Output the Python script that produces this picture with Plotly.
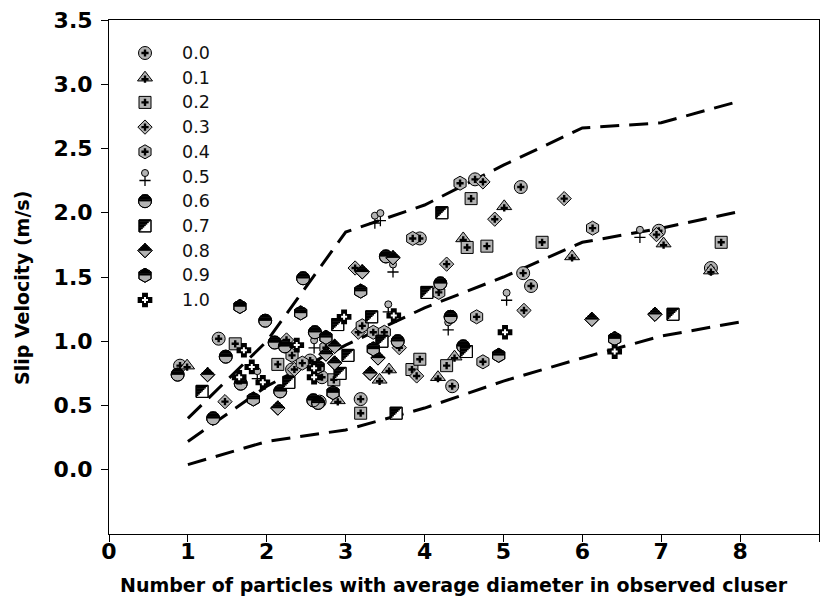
import math
import plotly.graph_objects as go

labels = ["0.0", "0.1", "0.2", "0.3", "0.4", "0.5", "0.6", "0.7", "0.8", "0.9", "1.0"]

s00_x = [0.90, 1.39, 2.32, 2.55, 2.70, 2.67, 3.19, 3.94, 4.35, 4.64, 5.22, 5.25, 5.35, 6.97, 7.63]
s00_y = [0.81, 1.02, 0.78, 0.85, 0.72, 0.53, 0.55, 1.80, 0.65, 2.26, 2.20, 1.53, 1.43, 1.86, 1.57]
s01_x = [0.99, 2.90, 3.43, 3.55, 4.17, 4.38, 4.49, 5.01, 5.87, 7.03, 7.63]
s01_y = [0.81, 0.54, 0.70, 0.78, 0.72, 0.88, 1.80, 2.05, 1.66, 1.76, 1.55]
s02_x = [1.60, 2.14, 2.85, 3.19, 3.84, 3.94, 4.28, 4.54, 4.59, 4.79, 5.49, 7.76]
s02_y = [0.98, 0.82, 0.70, 0.44, 0.78, 0.86, 0.81, 1.73, 2.11, 1.74, 1.77, 1.77]
s03_x = [1.47, 2.25, 2.35, 3.12, 3.16, 3.68, 3.90, 4.28, 4.74, 4.89, 5.26, 5.77, 6.94]
s03_y = [0.53, 1.01, 0.78, 1.57, 1.07, 0.95, 0.73, 1.60, 2.24, 1.95, 1.24, 2.11, 1.83]
s04_x = [2.32, 2.45, 2.75, 3.21, 3.35, 3.49, 3.85, 4.18, 4.45, 4.66, 4.74, 6.13]
s04_y = [0.89, 0.83, 0.95, 1.12, 1.07, 1.07, 1.80, 1.38, 2.23, 1.19, 0.84, 1.88]
s05_x = [1.88, 2.60, 3.37, 3.44, 3.54, 3.60, 4.30, 5.04, 6.73]
s05_y = [0.74, 0.98, 1.95, 1.97, 1.26, 1.57, 1.12, 1.35, 1.84]
s06_x = [0.87, 1.32, 1.48, 1.67, 1.98, 2.10, 2.17, 2.23, 2.46, 2.59, 2.65, 2.61, 3.51, 3.66, 4.20, 4.33, 4.49]
s06_y = [0.74, 0.40, 0.88, 0.67, 1.16, 0.99, 0.61, 0.96, 1.49, 0.54, 0.52, 1.07, 1.66, 1.00, 1.45, 1.19, 0.96]
s07_x = [1.18, 2.28, 2.90, 2.93, 3.03, 3.33, 3.46, 3.64, 4.03, 4.22, 4.53, 7.15]
s07_y = [0.61, 0.68, 1.13, 0.75, 0.89, 1.19, 1.00, 0.44, 1.38, 2.00, 0.92, 1.21]
s08_x = [1.25, 2.14, 2.75, 2.86, 2.86, 3.21, 3.31, 3.41, 3.60, 6.12, 6.92]
s08_y = [0.74, 0.48, 0.90, 0.83, 0.96, 1.54, 0.75, 0.87, 1.65, 1.17, 1.21]
s09_x = [1.66, 1.83, 2.43, 2.65, 2.75, 2.84, 3.19, 3.35, 4.94, 6.41]
s09_y = [1.27, 0.55, 1.22, 0.80, 1.03, 0.60, 1.39, 0.94, 0.89, 1.02]
s10_x = [1.65, 1.71, 1.81, 1.95, 2.38, 2.60, 2.60, 2.98, 3.61, 5.02, 6.41]
s10_y = [0.72, 0.93, 0.80, 0.68, 0.97, 0.79, 0.72, 1.19, 1.20, 1.07, 0.92]

line_x = [1, 2, 3, 4, 5, 6, 7, 8]
upper_y = [0.40, 1.00, 1.85, 2.06, 2.37, 2.66, 2.70, 2.87]
middle_y = [0.22, 0.65, 0.97, 1.26, 1.50, 1.77, 1.88, 2.01]
lower_y = [0.04, 0.22, 0.31, 0.48, 0.69, 0.87, 1.04, 1.15]

x_ticks = list(range(0, 10))
y_ticks = [0.0, 0.5, 1.0, 1.5, 2.0, 2.5, 3.0, 3.5]
x_title = "Number of particles with average diameter in observed cluser"
y_title = "Slip Velocity (m/s)"

series = [(s00_x, s00_y), (s01_x, s01_y), (s02_x, s02_y), (s03_x, s03_y),
          (s04_x, s04_y), (s05_x, s05_y), (s06_x, s06_y), (s07_x, s07_y),
          (s08_x, s08_y), (s09_x, s09_y), (s10_x, s10_y)]

W, H = 824, 612
ML, MR, MT, MB = 109, 5, 20, 78
PW, PH = W - ML - MR, H - MT - MB
XR = [0, 9]
YR = [-0.5, 3.5]

GRAY = "#b3b3b3"
BL = dict(color="black", width=1)
CLEAR = "rgba(0,0,0,0)"
FONT = "DejaVu Sans"

fig = go.Figure()


def half_strips(halfwidth, height, n=4):
    """Horizontal strips filling the upper half of a symbol: (dx px, dy px up, length px, thickness px)."""
    t = height / n
    out = []
    for k in range(n):
        mid = t * (k + 0.5)
        out.append((0.0, mid, 2 * halfwidth(mid), t + 0.4))
    return out


R_C = 6.5
circle_strips = half_strips(lambda y: math.sqrt(max(R_C * R_C - y * y, 0)), R_C)
R_H = 7.0
hex_strips = half_strips(lambda y: R_H * math.sqrt(3) / 2 * (1 if y <= R_H / 2 else (R_H - y) / (R_H / 2)), R_H)
D_D = 1.3 * 11 / 2
dia_strips = half_strips(lambda y: D_D - y, D_D)

# upper-left diagonal half of a 12px square (black where x + y_down < 0)
S_H = 6.0
N_SQ = 8
sq_strips = []
for k in range(N_SQ):
    t = 2 * S_H / N_SQ
    ym = -S_H + t * (k + 0.5)          # screen-down coordinate
    length = S_H - ym
    xc = (-S_H - ym) / 2
    sq_strips.append((xc, -ym, length, t + 0.4))


def add_point_set(xs, ys, idx, xa, ya, dxp, dyp):
    """Draw one series' composite markers; dxp/dyp = data units per pixel."""
    ax = dict(xaxis=xa, yaxis=ya, showlegend=False, hoverinfo="skip", mode="markers")

    def sh(v, d):
        return [a + d for a in v]

    def strips(sl):
        for dx, dy, length, thick in sl:
            fig.add_trace(go.Scatter(x=sh(xs, dx * dxp), y=sh(ys, dy * dyp),
                                     marker=dict(symbol="line-ew", size=length / 1.4,
                                                 line=dict(color="black", width=thick)), **ax))

    if idx in (0, 1, 2, 3, 4):
        sym = ["circle", "triangle-up", "square", "diamond", "hexagon"][idx]
        size = [13, 13, 12, 11, 14][idx]
        yoff = 1.5 if idx == 1 else 0
        fig.add_trace(go.Scatter(x=xs, y=ys, marker=dict(symbol=sym, size=size, color=GRAY, line=BL), **ax))
        fig.add_trace(go.Scatter(x=xs, y=sh(ys, -yoff * dyp),
                                 marker=dict(symbol="cross", size=6, color="black", line=dict(width=0)), **ax))
    elif idx == 5:
        fig.add_trace(go.Scatter(x=xs, y=sh(ys, -4 * dyp),
                                 marker=dict(symbol="cross-thin", size=8, line=dict(color="black", width=1.3)), **ax))
        fig.add_trace(go.Scatter(x=xs, y=sh(ys, 3.5 * dyp),
                                 marker=dict(symbol="circle", size=7, color=GRAY, line=BL), **ax))
    elif idx in (6, 8, 9):
        sym = {6: "circle", 8: "diamond", 9: "hexagon"}[idx]
        size = {6: 13, 8: 11, 9: 14}[idx]
        sl = {6: circle_strips, 8: dia_strips, 9: hex_strips}[idx]
        fig.add_trace(go.Scatter(x=xs, y=ys, marker=dict(symbol=sym, size=size, color=GRAY, line=BL), **ax))
        strips(sl)
        fig.add_trace(go.Scatter(x=xs, y=ys, marker=dict(symbol=sym, size=size, color=CLEAR, line=BL), **ax))
    elif idx == 7:
        fig.add_trace(go.Scatter(x=xs, y=ys, marker=dict(symbol="square", size=12, color="white", line=BL), **ax))
        strips(sq_strips)
        fig.add_trace(go.Scatter(x=xs, y=ys, marker=dict(symbol="square", size=12, color=CLEAR, line=BL), **ax))
    elif idx == 10:
        fig.add_trace(go.Scatter(x=xs, y=ys, marker=dict(symbol="cross", size=11, color="black",
                                                         line=dict(color="black", width=1.5)), **ax))
        fig.add_trace(go.Scatter(x=xs, y=ys, marker=dict(symbol="cross", size=5, color="white",
                                                         line=dict(width=0)), **ax))


# dashed envelope lines
for ly in (upper_y, middle_y, lower_y):
    fig.add_trace(go.Scatter(x=line_x, y=ly, mode="lines", showlegend=False, hoverinfo="skip",
                             line=dict(color="black", width=3, dash="19px,10px")))

dx_data = (XR[1] - XR[0]) / PW
dy_data = (YR[1] - YR[0]) / PH
for i, (xs, ys) in enumerate(series):
    add_point_set(xs, ys, i, "x", "y", dx_data, dy_data)

# legend drawn on a hidden overlay axis measured in pixels
LEG_X = 145 - ML
LEG_Y0 = 53 - MT
LEG_DY = 24.7
for i, lab in enumerate(labels):
    py = PH - (LEG_Y0 + i * LEG_DY)
    add_point_set([LEG_X], [py], i, "x2", "y2", 1.0, 1.0)
    fig.add_annotation(x=180 - ML, y=py, xref="x2", yref="y2", text=lab, showarrow=False,
                       xanchor="left", yanchor="middle",
                       font=dict(family=FONT, size=17.5, color="#111111"))

# axis titles
fig.add_annotation(x=(454 - ML) / PW, y=-(585 - (MT + PH)) / PH, xref="paper", yref="paper",
                   text=x_title, showarrow=False, xanchor="center", yanchor="middle",
                   font=dict(family=FONT, size=19, weight=700, color="black"))
fig.add_annotation(x=-(ML - 22) / PW, y=1 - (288 - MT) / PH, xref="paper", yref="paper",
                   text=y_title, textangle=-90, showarrow=False, xanchor="center", yanchor="middle",
                   font=dict(family=FONT, size=19, weight=700, color="black"))

fig.update_layout(
    width=W, height=H,
    margin=dict(l=ML, r=MR, t=MT, b=MB),
    plot_bgcolor="white", paper_bgcolor="white",
    showlegend=False,
    font=dict(family=FONT, color="black"),
    xaxis=dict(range=XR, tickvals=x_ticks, ticks="outside", ticklen=7, tickwidth=1, tickcolor="black",
               showline=True, linecolor="black", linewidth=1, mirror=True, showgrid=False, zeroline=False,
               ticklabelstandoff=-9,
               tickfont=dict(family=FONT, size=22, weight=700, color="black")),
    yaxis=dict(range=YR, tickvals=y_ticks, ticktext=[f"{v:.1f}" for v in y_ticks],
               ticks="outside", ticklen=7, tickwidth=1, tickcolor="black",
               showline=True, linecolor="black", linewidth=1, mirror=True, showgrid=False, zeroline=False,
               ticklabelstandoff=4,
               tickfont=dict(family=FONT, size=22, weight=700, color="black")),
    xaxis2=dict(overlaying="x", range=[0, PW], visible=False, fixedrange=True),
    yaxis2=dict(overlaying="y", range=[0, PH], visible=False, fixedrange=True),
)

fig.write_html("out.html")
